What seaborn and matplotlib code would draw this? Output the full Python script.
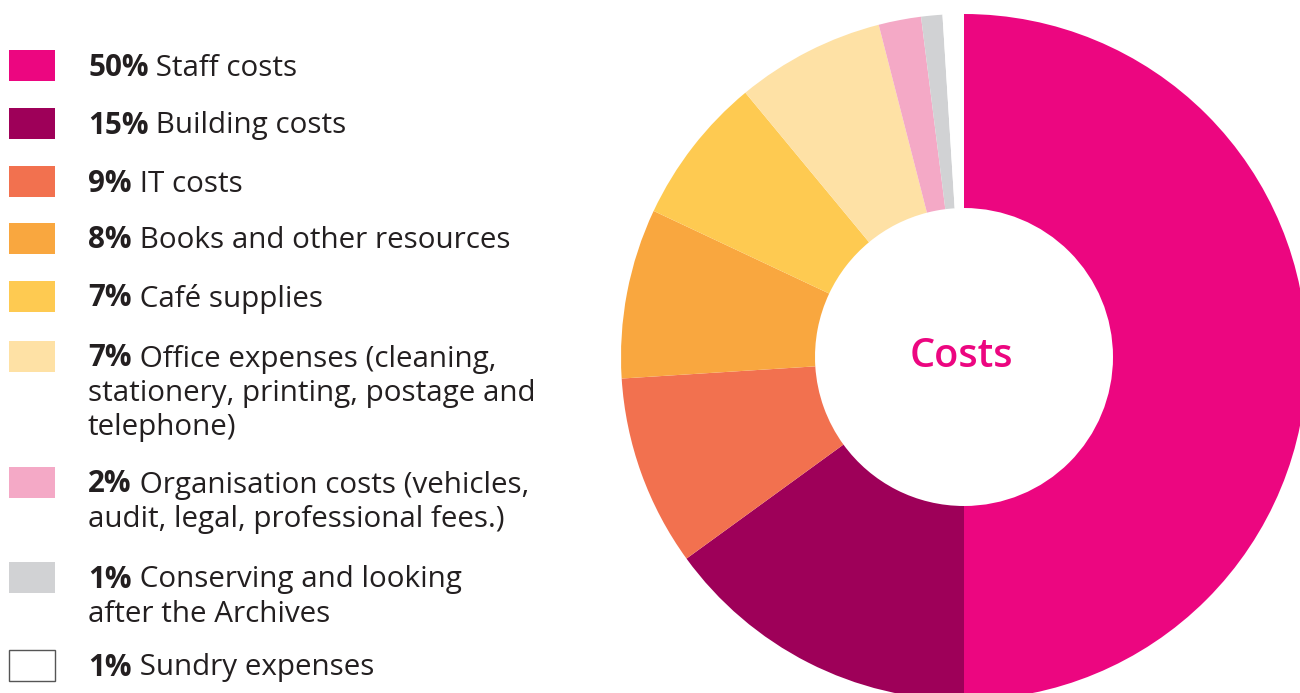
import matplotlib
matplotlib.use("Agg")
import matplotlib.pyplot as plt
from matplotlib.patches import Rectangle
import seaborn as sns

# --- data ---
shares = [50, 15, 9, 8, 7, 7, 2, 1, 1]
descriptions = [
    "Staff costs",
    "Building costs",
    "IT costs",
    "Books and other resources",
    "Café supplies",
    "Office expenses (cleaning,\nstationery, printing, postage and\ntelephone)",
    "Organisation costs (vehicles,\naudit, legal, professional fees.)",
    "Conserving and looking\nafter the Archives",
    "Sundry expenses",
]
colours = ["#EC0680", "#9E0059", "#F2714F", "#F9A73F", "#FECA51",
           "#FEE1A5", "#F4A9C6", "#D1D2D4", "#FFFFFF"]
centre_label = "Costs"

# --- layout (pixel units, y grows downwards) ---
row_centres = [65, 123, 181, 238, 296, 356, 482, 577, 665]
TEXT_X = 88
LINE_GAP = 34
FONT_SIZE = 21.3
TEXT_COLOUR = "#231F20"
MAGENTA = colours[0]

sns.set_theme(style="white")
plt.rcParams["font.family"] = ["Open Sans", "DejaVu Sans"]

fig = plt.figure(figsize=(13, 6.93), dpi=100)
ax = fig.add_axes([0, 0, 1, 1])

# donut: y axis is inverted below, so counterclock=True draws clockwise on screen
ax.pie(
    shares,
    colors=sns.color_palette(colours),
    startangle=-90,
    counterclock=True,
    radius=343,
    center=(964, 357),
    wedgeprops=dict(width=194, linewidth=0),
)
ax.text(961, 357, centre_label, ha="center", va="center",
        fontsize=28.5, fontweight="semibold", color=MAGENTA)

renderer = fig.canvas.get_renderer()
for share, desc, colour, yc in zip(shares, descriptions, colours, row_centres):
    edge = "#555555" if colour == "#FFFFFF" else colour
    ax.add_patch(Rectangle((9, yc - 15.5), 46, 31, facecolor=colour,
                           edgecolor=edge, linewidth=1 if edge != colour else 0))
    lines = desc.split("\n")
    baseline = yc + 10.5
    pct = ax.text(TEXT_X, baseline, f"{share}%", fontsize=FONT_SIZE,
                  fontweight="bold", color=TEXT_COLOUR, va="baseline", ha="left")
    width = pct.get_window_extent(renderer=renderer).width
    ax.text(TEXT_X + width, baseline, " " + lines[0], fontsize=FONT_SIZE,
            color=TEXT_COLOUR, va="baseline", ha="left")
    for i, extra in enumerate(lines[1:], start=1):
        ax.text(TEXT_X, baseline + i * LINE_GAP, extra, fontsize=FONT_SIZE,
                color=TEXT_COLOUR, va="baseline", ha="left")

ax.set_xlim(0, 1300)
ax.set_ylim(693, 0)
ax.set_aspect("equal", adjustable="box")
ax.axis("off")

fig.savefig("out.png", dpi=100)
